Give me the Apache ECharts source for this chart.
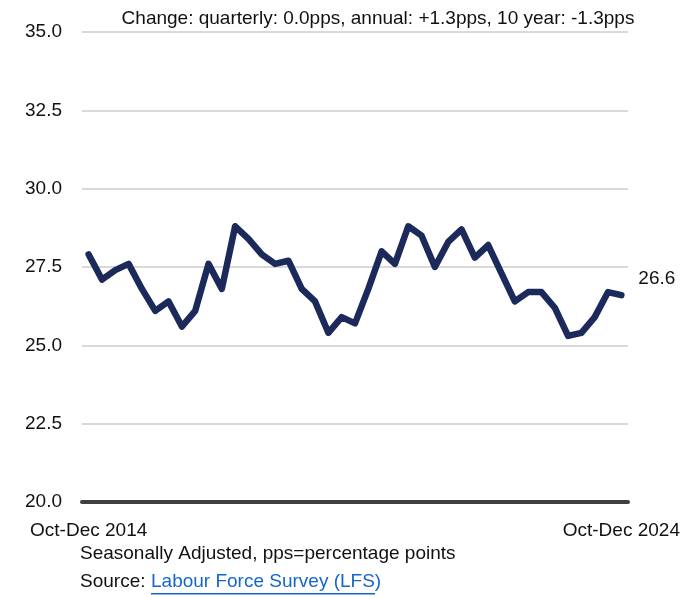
<!DOCTYPE html>
<html><head><meta charset="utf-8">
<script src="https://cdn.jsdelivr.net/npm/echarts@6/dist/echarts.min.js"></script>
<style>html,body{margin:0;padding:0;background:#fff}#c{width:698px;height:597px}</style>
</head><body><div id="c"></div>
<script>
const quarters = [];
for (let y = 2014; y <= 2024; y++) {
  const qs = y === 2014 ? ['Oct-Dec'] : ['Jan-Mar','Apr-Jun','Jul-Sep','Oct-Dec'];
  qs.forEach(q => quarters.push(q + ' ' + y));
}
const values = [27.9,27.1,27.4,27.6,26.8,26.1,26.4,25.6,26.1,27.6,26.8,28.8,28.4,27.9,27.6,27.7,26.8,26.4,25.4,25.9,25.7,26.8,28.0,27.6,28.8,28.5,27.5,28.3,28.7,27.8,28.2,27.3,26.4,26.7,26.7,26.2,25.3,25.4,25.9,26.7,26.6];
const yTicks = [20, 22.5, 25, 27.5, 30, 32.5, 35];
const titleText = 'Change: quarterly: 0.0pps, annual: +1.3pps, 10 year: -1.3pps';
const noteText = 'Seasonally Adjusted, pps=percentage points';
const sourceLabel = 'Source: ';
const sourceLink = 'Labour Force Survey (LFS)';

const FONT = 'Liberation Sans, Arial, sans-serif';
const FS = 19;
const chart = echarts.init(document.getElementById('c'));
chart.setOption({
  animation: false,
  textStyle: { fontFamily: FONT },
  title: {
    text: titleText, left: 373, top: 4, textAlign: 'center',
    textStyle: { fontSize: FS, fontWeight: 'normal', color: '#111', fontFamily: FONT }
  },
  grid: { left: 82, right: 70, top: 32, bottom: 95, containLabel: false },
  xAxis: {
    type: 'category', data: quarters, boundaryGap: true,
    axisLine: { show: true, lineStyle: { color: '#404040', width: 4 } },
    axisTick: { show: false },
    axisLabel: {
      interval: (i) => i === 0 || i === quarters.length - 1,
      color: '#111', fontSize: FS, margin: 19, fontFamily: FONT
    }
  },
  yAxis: {
    type: 'value', min: yTicks[0], max: yTicks[yTicks.length - 1], interval: 2.5,
    axisLine: { show: false }, axisTick: { show: false },
    splitLine: { lineStyle: { color: '#d9d9d9', width: 2 } },
    axisLabel: { formatter: v => v.toFixed(1), color: '#111', fontSize: FS, margin: 20, fontFamily: FONT }
  },
  series: [{
    type: 'line', data: values, symbol: 'none',
    lineStyle: { color: '#1c2a5b', width: 6.5, join: 'round', cap: 'round' },
    endLabel: {
      show: true, formatter: p => p.value.toFixed(1), color: '#111', fontSize: FS,
      distance: 17, offset: [0, -16], fontFamily: FONT
    }
  }],
  graphic: [
    { type: 'text', left: 80, top: 544, style: { text: noteText, font: FS + 'px ' + FONT, fill: '#111' } },
    { type: 'text', left: 80, top: 572, style: { text: sourceLabel, font: FS + 'px ' + FONT, fill: '#111' } },
    { type: 'text', left: 151, top: 572, style: { text: sourceLink, font: FS + 'px ' + FONT, fill: '#1467c8' } },
    { type: 'rect', left: 151, top: 593, shape: { width: 224, height: 1.5 }, style: { fill: '#1467c8' } }
  ]
});
</script></body></html>
